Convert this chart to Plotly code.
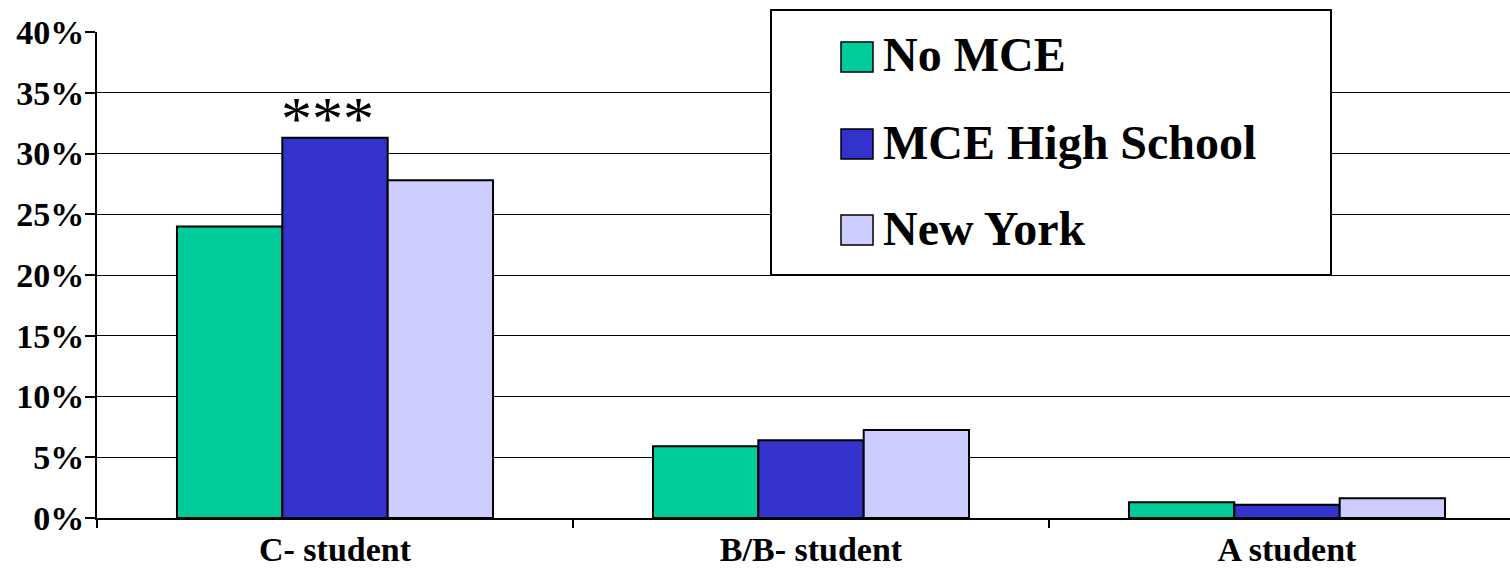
import plotly.graph_objects as go

# Share of students in each grade band, by group (percent)
categories = ["C- student", "B/B- student", "A student"]
series_names = ["No MCE", "MCE High School", "New York"]
no_mce = [24.0, 5.9, 1.3]
mce_high_school = [31.3, 6.4, 1.1]
new_york = [27.8, 7.25, 1.62]
series_values = [no_mce, mce_high_school, new_york]
colors = ["#00CC99", "#3333CC", "#CCCCFF"]
y_ticks = [0, 5, 10, 15, 20, 25, 30, 35, 40]
y_tick_labels = [f"{v}%" for v in y_ticks]
significance_mark = "***"

SERIF = "'Liberation Serif', 'Times New Roman', Tinos, 'DejaVu Serif', serif"

W, H = 1510, 570
ML, MR, MT, MB = 97, 0, 32, 52
PW, PH = W - ML - MR, H - MT - MB
CAT_PX = 476  # pixel width of one category slot


def px_x(px):
    return (px - ML) / PW


def px_y(py):
    return (H - MB - py) / PH


fig = go.Figure()
for name, vals, col in zip(series_names, series_values, colors):
    fig.add_trace(go.Bar(
        x=categories, y=vals, name=name,
        marker=dict(color=col, line=dict(color="black", width=2)),
        showlegend=False,
    ))

# significance stars above the MCE High School bar of the first category
fig.add_annotation(
    x=categories[0], y=mce_high_school[0], xref="x", yref="y",
    text=significance_mark, showarrow=False, yanchor="bottom",
    xshift=-8, yshift=-16,
    font=dict(family=SERIF, size=62, color="black"),
)

# boxed legend with large swatches
box = dict(x0=771, x1=1331, y0=10, y1=275)
fig.add_shape(type="rect", xref="paper", yref="paper", layer="above",
              x0=px_x(box["x0"]), x1=px_x(box["x1"]),
              y0=px_y(box["y1"]), y1=px_y(box["y0"]),
              fillcolor="white", line=dict(color="black", width=2))
row_centers = [57, 144, 230]
for name, col, cy in zip(series_names, colors, row_centers):
    fig.add_shape(type="rect", xref="paper", yref="paper", layer="above",
                  x0=px_x(841), x1=px_x(873),
                  y0=px_y(cy + 15), y1=px_y(cy - 15),
                  fillcolor=col, line=dict(color="black", width=1.5))
    fig.add_annotation(x=px_x(881), y=px_y(cy - 2), xref="paper", yref="paper",
                       text=name, showarrow=False, xanchor="left", yanchor="middle",
                       font=dict(family=SERIF, size=48, color="black", weight="bold"))

fig.update_layout(
    width=W, height=H,
    margin=dict(l=ML, r=MR, t=MT, b=MB, pad=0, autoexpand=False),
    paper_bgcolor="white", plot_bgcolor="white",
    barmode="group", bargap=0.336, bargroupgap=0,
    font=dict(family=SERIF, color="black"),
)
fig.update_xaxes(
    type="category", automargin=False,
    range=[-0.5, -0.5 + PW / CAT_PX],
    tickson="boundaries", ticks="outside", ticklen=8, tickwidth=2, tickcolor="black",
    ticklabelstandoff=0,
    showline=True, linecolor="black", linewidth=2,
    showgrid=False,
    tickfont=dict(family=SERIF, size=34, color="black", weight="bold"),
)
fig.update_yaxes(
    automargin=False,
    range=[0, 40], tickmode="array", tickvals=y_ticks, ticktext=y_tick_labels,
    ticks="outside", ticklen=10, tickwidth=2, tickcolor="black",
    ticklabelstandoff=-6,
    showline=True, linecolor="black", linewidth=2,
    showgrid=True, gridcolor="black", gridwidth=1,
    zeroline=False,
    tickfont=dict(family=SERIF, size=34, color="black", weight="bold"),
)

fig.write_html("out.html")
